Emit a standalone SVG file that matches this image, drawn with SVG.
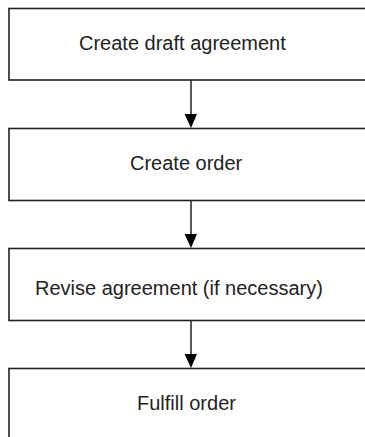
<svg xmlns="http://www.w3.org/2000/svg" width="365" height="437" viewBox="0 0 365 437">
  <style>
    .box { fill: #ffffff; stroke: #222222; stroke-width: 1.6; }
    .label { font-family: "Liberation Sans", Arial, sans-serif; font-size: 20px; fill: #222222; }
    .link { stroke: #222222; stroke-width: 1.5; fill: none; }
    .head { fill: #000000; }
  </style>
  <rect width="365" height="437" fill="#ffffff"/>

  <g id="step-draft">
    <rect class="box" x="9" y="8.5" width="400" height="71.5"/>
    <text class="label" x="79" y="50">Create draft agreement</text>
  </g>
  <g id="step-order">
    <rect class="box" x="9" y="128.5" width="400" height="72"/>
    <text class="label" x="130" y="170">Create order</text>
  </g>
  <g id="step-revise">
    <rect class="box" x="9" y="248.5" width="400" height="72"/>
    <text class="label" x="35" y="295">Revise agreement (if necessary)</text>
  </g>
  <g id="step-fulfill">
    <rect class="box" x="9" y="368.5" width="400" height="100"/>
    <text class="label" x="137" y="410">Fulfill order</text>
  </g>

  <g id="connectors">
    <line class="link" x1="191" y1="80" x2="191" y2="120"/>
    <polygon class="head" points="184.5,114 197,114 191,128"/>
    <line class="link" x1="191" y1="200.5" x2="191" y2="240"/>
    <polygon class="head" points="184.5,234 197,234 191,248"/>
    <line class="link" x1="191" y1="320.5" x2="191" y2="360"/>
    <polygon class="head" points="184.5,354 197,354 191,368"/>
  </g>
</svg>
